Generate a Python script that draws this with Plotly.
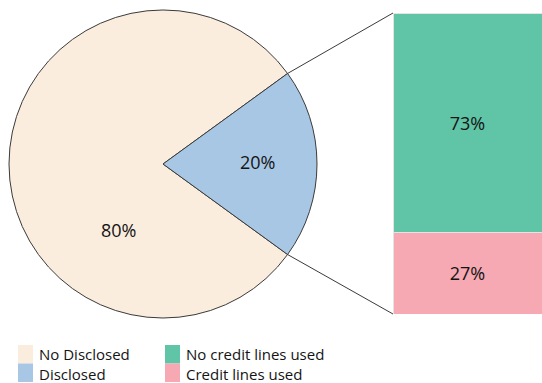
import math
import plotly.graph_objects as go

W, H = 542, 383

# Disclosure split (pie)
pie_labels = ["No Disclosed", "Disclosed"]
pie_values = [80, 20]
pie_colors = ["#FAEDDE", "#A8C7E5"]

# Credit line usage among disclosed (stacked bar, bottom segment first)
bar_labels = ["Credit lines used", "No credit lines used"]
bar_values = [27, 73]
bar_colors = ["#F6A8B3", "#60C4A6"]

# legend order (two columns)
legend_pie = [0, 1]
legend_bar = [1, 0]

FONT = "Open Sans"
TXT = "#141414"

# pie geometry in pixels
cx, cy, r = 163, 164, 154
# bar geometry in pixels
bx0, bx1, by0, by1 = 393, 542, 13, 314
# pie label anchor points in pixels
pie_label_pos = [(118.5, 230), (257.5, 161.5)]

disclosed_share = pie_values[1] / sum(pie_values)
half_angle = disclosed_share * 360 / 2  # Disclosed slice centred on 3 o'clock

fig = go.Figure()

fig.add_trace(go.Pie(
    labels=pie_labels,
    values=pie_values,
    marker=dict(colors=pie_colors, line=dict(color="#3a3a3a", width=1)),
    sort=False,
    direction="clockwise",
    rotation=90 + half_angle,
    textinfo="none",
    domain=dict(x=[(cx - r) / W, (cx + r) / W], y=[(H - cy - r) / H, (H - cy + r) / H]),
    showlegend=False,
    hoverinfo="label+percent",
))

total = sum(pie_values)
for val, (px, py) in zip(pie_values, pie_label_pos):
    fig.add_annotation(xref="paper", yref="paper", x=px / W, y=1 - py / H,
                       text=f"{round(100 * val / total)}%", showarrow=False,
                       xanchor="center", yanchor="middle",
                       font=dict(family=FONT, size=18, color=TXT))

for lab, val, col in zip(bar_labels, bar_values, bar_colors):
    fig.add_trace(go.Bar(
        x=[0], y=[val], name=lab, width=1,
        marker=dict(color=col, line=dict(color="#e4e4e4", width=1)),
        text=[f"{val}%"], textposition="inside", insidetextanchor="middle",
        textfont=dict(family=FONT, size=18, color=TXT),
        showlegend=False,
    ))

fig.update_layout(
    barmode="stack",
    width=W, height=H,
    margin=dict(l=0, r=0, t=0, b=0),
    paper_bgcolor="white", plot_bgcolor="white",
    xaxis=dict(domain=[bx0 / W, bx1 / W], range=[-0.5, 0.5], visible=False, fixedrange=True),
    yaxis=dict(domain=[(H - by1) / H, (H - by0) / H], range=[0, sum(bar_values)], visible=False, fixedrange=True),
    uniformtext=dict(minsize=10, mode="show"),
)

# connector lines from the Disclosed slice edge to the bar corners
a = math.radians(half_angle)
ux, uy = cx + r * math.cos(a), cy - r * math.sin(a)
lx, ly = cx + r * math.cos(a), cy + r * math.sin(a)
for (px, py), (qx, qy) in [((ux, uy), (bx0, by0)), ((lx, ly), (bx0, by1))]:
    fig.add_shape(type="line", xref="paper", yref="paper",
                  x0=px / W, y0=1 - py / H, x1=qx / W, y1=1 - qy / H,
                  line=dict(color="#3a3a3a", width=1))

# two-column legend: stacked swatches plus one multi-line label block per column
legend_cols = [
    (18, [pie_labels[i] for i in legend_pie], [pie_colors[i] for i in legend_pie]),
    (165, [bar_labels[i] for i in legend_bar], [bar_colors[i] for i in legend_bar]),
]
sw_w, sw_h, top = 15, 18.5, 345
for x0, labs, cols in legend_cols:
    for i, col in enumerate(cols):
        y0 = top + i * sw_h
        fig.add_shape(type="rect", xref="paper", yref="paper",
                      x0=x0 / W, x1=(x0 + sw_w) / W,
                      y0=1 - y0 / H, y1=1 - (y0 + sw_h) / H,
                      fillcolor=col, line=dict(width=0))
    fig.add_annotation(xref="paper", yref="paper",
                       x=(x0 + sw_w + 5) / W, y=1 - (top + sw_h * len(labs) / 2) / H,
                       text="<br>".join(labs), showarrow=False,
                       xanchor="left", yanchor="middle", align="left", borderpad=0,
                       font=dict(family=FONT, size=15, color=TXT))

fig.write_html("out.html")
